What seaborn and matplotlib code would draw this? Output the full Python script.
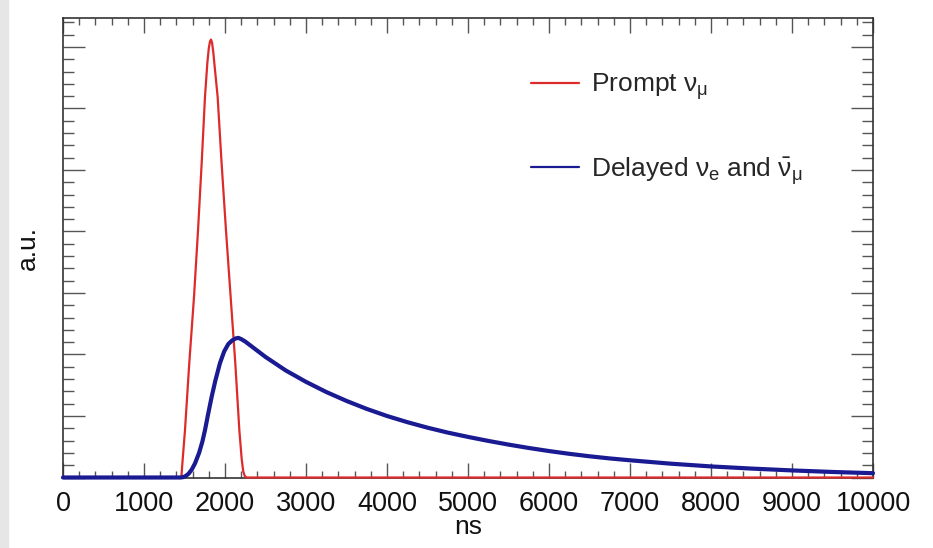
import matplotlib
matplotlib.use('Agg')
import matplotlib.pyplot as plt
import seaborn as sns
from matplotlib.patches import Rectangle
from matplotlib.ticker import MultipleLocator, NullFormatter

# Données (temps en ns, intensité en unités arbitraires)
prompt_t = [0, 1440, 1462, 1475, 1506, 1559, 1617, 1667, 1712, 1753, 1782,
            1800, 1815, 1827, 1840, 1855, 1868, 1909, 1958, 2012, 2070,
            2127, 2177, 2206, 2225, 2245, 2270, 10000]
prompt_y = [0, 0, 0.02, 0.25, 0.77, 1.86, 2.93, 4.02, 5.11, 6.19, 6.74,
            6.98, 7.09, 7.12, 7.07, 6.92, 6.74, 6.19, 5.11, 4.02, 2.93,
            1.86, 0.77, 0.30, 0.10, 0.02, 0, 0]

delayed_t = [0, 1450, 1480, 1510, 1550, 1590, 1630, 1680, 1720, 1753, 1790,
             1835, 1880, 1938, 1990, 2041, 2090, 2130, 2164, 2200, 2250,
             2300, 2400, 2500, 2750, 3000, 3250, 3500, 3750, 4000, 4250,
             4500, 4750, 5000, 5250, 5500, 5750, 6000, 6250, 6500, 6750,
             7000, 7500, 8000, 8500, 9000, 9500, 10000]
delayed_y = [0, 0, 0.005, 0.02, 0.06, 0.13, 0.23, 0.40, 0.58, 0.77, 1.02,
             1.31, 1.57, 1.86, 2.05, 2.17, 2.23, 2.26, 2.27, 2.25, 2.21,
             2.16, 2.06, 1.96, 1.74, 1.555, 1.39, 1.245, 1.115, 1.00, 0.90,
             0.81, 0.73, 0.66, 0.595, 0.535, 0.48, 0.43, 0.385, 0.345, 0.31,
             0.28, 0.225, 0.18, 0.145, 0.115, 0.09, 0.07]

prompt_label = r'Prompt $\nu_{\mu}$'
delayed_label = r'Delayed $\nu_{e}$ and $\bar{\nu}_{\mu}$'

sns.set_theme(style='ticks')
plt.rcParams['font.family'] = ['Liberation Sans', 'DejaVu Sans']
plt.rcParams['mathtext.fontset'] = 'custom'
plt.rcParams['mathtext.rm'] = 'Liberation Sans'
plt.rcParams['mathtext.it'] = 'Liberation Sans'
plt.rcParams['mathtext.bf'] = 'Liberation Sans'

fig = plt.figure(figsize=(9.33, 5.48), dpi=100)
fig.patches.append(Rectangle((0, 0), 8 / 933, 1, transform=fig.transFigure,
                             color='#e6e6e6', zorder=0))
ax = fig.add_axes([63 / 933, 1 - 477.5 / 548, 810 / 933, 459.5 / 548])

sns.lineplot(x=prompt_t, y=prompt_y, ax=ax, color='#dd2b2b', lw=1.6,
             label=prompt_label, clip_on=False, zorder=3)
sns.lineplot(x=delayed_t, y=delayed_y, ax=ax, color='#1a1a92', lw=3.0,
             label=delayed_label, clip_on=False, zorder=4)

ax.set_xlim(0, 10000)
ax.set_ylim(0, 7.47)
ax.xaxis.set_major_locator(MultipleLocator(1000))
ax.xaxis.set_minor_locator(MultipleLocator(200))
ax.yaxis.set_major_locator(MultipleLocator(1))
ax.yaxis.set_minor_locator(MultipleLocator(0.2))
ax.yaxis.set_major_formatter(NullFormatter())

ax.tick_params(axis='x', which='major', direction='in', length=10.5, width=1,
               color='#555555', top=True, labelsize=19.5, pad=9.5,
               labelcolor='#111111')
ax.tick_params(axis='x', which='minor', direction='in', length=5, width=1,
               color='#555555', top=True)
ax.tick_params(axis='y', which='major', direction='in', length=16, width=1,
               color='#555555', right=True)
ax.tick_params(axis='y', which='minor', direction='in', length=8, width=1,
               color='#555555', right=True)
for s in ax.spines.values():
    s.set_color('#333333')
    s.set_linewidth(1.2)

ax.set_xlabel('ns', fontsize=19, labelpad=-1, color='#111111')
ax.set_ylabel('a.u.', fontsize=19, labelpad=13, color='#111111')

leg = ax.legend(loc='upper left', bbox_to_anchor=(0.548, 0.935), frameon=False,
                fontsize=19, handlelength=1.85, handletextpad=0.42,
                labelspacing=2.0)
for h in leg.get_lines():
    h.set_linewidth(1.6)

plt.savefig('out.png', dpi=100)
